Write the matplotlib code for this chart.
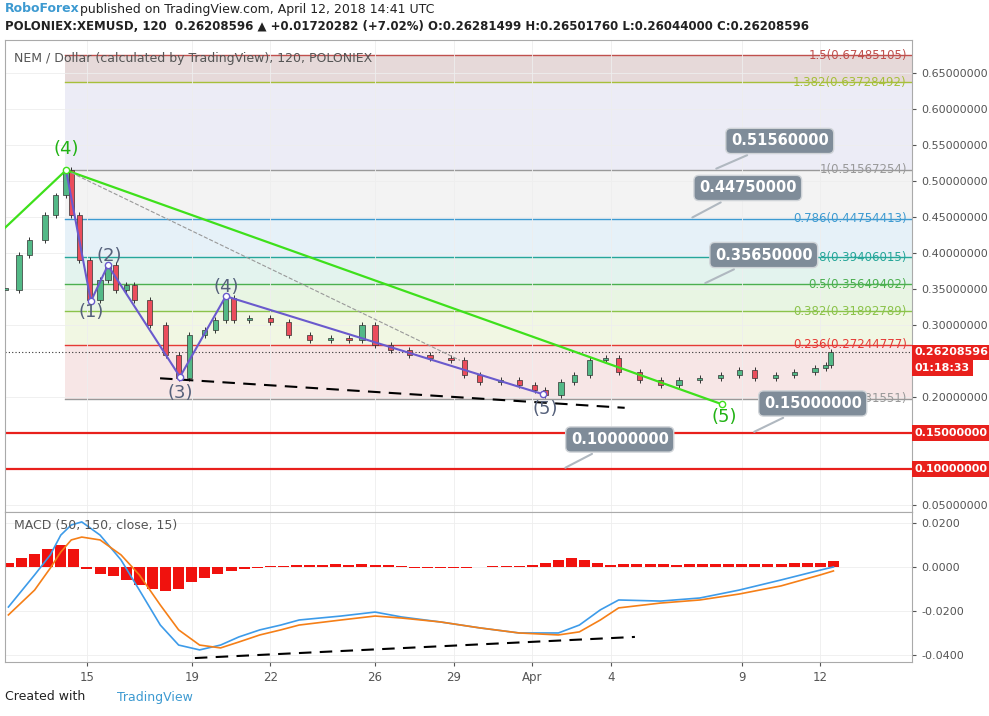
import matplotlib
matplotlib.use("Agg")
import matplotlib.pyplot as plt
import numpy as np

# ---------------- data ----------------
price_days = [11.87,12.4,12.8,13.4,13.8,14.2,14.4,14.7,15.1,15.5,15.8,16.1,16.5,16.8,17.4,18.0,18.5,18.9,19.5,19.9,20.3,20.6,21.2,22.0,22.7,23.5,24.3,25.0,25.5,26.0,26.6,27.3,28.1,28.9,29.4,30.0,30.8,31.5,32.1,32.5,33.1,33.6,34.2,34.8,35.3,36.1,36.9,37.6,38.4,39.2,39.9,40.5,41.3,42.0,42.8,43.2,43.4]
price_close = [0.349,0.397,0.418,0.453,0.480,0.515,0.453,0.390,0.335,0.363,0.383,0.349,0.356,0.335,0.300,0.258,0.226,0.286,0.293,0.307,0.338,0.307,0.310,0.304,0.286,0.279,0.282,0.279,0.300,0.272,0.265,0.258,0.254,0.251,0.231,0.221,0.224,0.217,0.210,0.203,0.221,0.231,0.251,0.254,0.235,0.224,0.217,0.224,0.226,0.231,0.238,0.226,0.231,0.235,0.240,0.244,0.262]

fib_ratios = ["1.5","1.382","1","0.786","0.618","0.5","0.382","0.236","0"]
fib_levels = [0.67485105,0.63728492,0.51567254,0.44754413,0.39406015,0.35649402,0.31892789,0.27244777,0.19731551]
fib_line_colors = ["#c0504d","#a6bf3a","#999999","#3d9ad1","#26a69a","#4caf50","#8bc34a","#e53935","#999999"]
fib_fill_colors = ["#e6d9d9","#ececf6","#f3f3f3","#e6f1f8","#e3f3ee","#e8f5e3","#f1f7e3","#f7e6e6"]

callout_values = [0.5156,0.4475,0.3565,0.15,0.10]
callout_point_days = [38.93,38.02,38.51,40.38,33.17]
callout_text_pos = [(41.45,0.5556),(40.23,0.4903),(40.84,0.3972),(42.71,0.191),(35.34,0.141)]

macd_days = [12.0,13.0,13.6,14.0,14.4,14.8,15.5,16.3,17.0,17.8,18.5,19.3,20.1,20.8,21.6,22.4,23.1,24.7,26.0,27.0,28.5,30.0,31.5,33.0,33.8,34.6,35.3,36.9,38.4,39.9,41.5,43.0,43.5]
macd_line = [-0.0182,-0.0036,0.0055,0.0145,0.0191,0.0205,0.0145,0.0032,-0.0105,-0.0264,-0.0355,-0.0377,-0.0355,-0.0318,-0.0286,-0.0264,-0.0241,-0.0223,-0.0205,-0.0227,-0.0250,-0.0277,-0.0300,-0.0300,-0.0264,-0.0195,-0.0150,-0.0155,-0.0141,-0.0105,-0.0059,-0.0014,0.0]
signal_line = [-0.0218,-0.0105,-0.0005,0.0068,0.0123,0.0136,0.0123,0.0055,-0.0036,-0.0173,-0.0286,-0.0355,-0.0368,-0.0341,-0.0309,-0.0286,-0.0264,-0.0241,-0.0223,-0.0232,-0.0250,-0.0277,-0.0300,-0.0309,-0.0295,-0.0241,-0.0186,-0.0164,-0.0150,-0.0123,-0.0086,-0.0036,-0.0018]
hist_days = list(np.arange(12.0, 43.51, 0.5))
hist_vals = [0.002,0.004,0.006,0.008,0.010,0.008,-0.001,-0.003,-0.004,-0.006,-0.008,-0.010,-0.011,-0.010,-0.007,-0.005,-0.003,-0.002,-0.001,-0.0005,0.0003,0.0005,0.0008,0.001,0.001,0.0012,0.001,0.0012,0.001,0.0008,0.0005,-0.0003,-0.0005,-0.0005,-0.0004,-0.0003,-0.0002,0.0003,0.0005,0.0006,0.0008,0.002,0.003,0.004,0.003,0.002,0.001,0.0012,0.0015,0.0015,0.0012,0.001,0.0012,0.0015,0.0015,0.0012,0.0012,0.0015,0.0015,0.0015,0.0018,0.002,0.002,0.0025]

tick_days = [15,19,22,26,29,32,35,40,43]
tick_labels = ["15","19","22","26","29","Apr","4","9","12"]
price_ticks = [0.05,0.20,0.30,0.35,0.40,0.45,0.50,0.55,0.60,0.65]

XL = (11.87, 46.5)

fig = plt.figure(figsize=(9.89,7.16), dpi=100)
fig.patch.set_facecolor("white")
ax = fig.add_axes([5/989, 1-512/716, 907/989, 472/716])
mx = fig.add_axes([5/989, 1-662/716, 907/989, 150/716], sharex=ax)

for i in range(len(fib_levels)-1):
    ax.fill_between([14.16, XL[1]], fib_levels[i+1], fib_levels[i], color=fib_fill_colors[i], lw=0, zorder=0)
for r, lv, c in zip(fib_ratios, fib_levels, fib_line_colors):
    ax.plot([14.16, XL[1]], [lv, lv], color=c, lw=1, zorder=1)
    ax.text(46.3, lv, f"{r}({lv:.8f})", color=c, fontsize=8.5, ha="right", va="center", zorder=5)

for lv in [0.15, 0.10]:
    ax.axhline(lv, color="#e8201c", lw=1.6, zorder=2)

opens = [price_close[0]] + price_close[:-1]
for d, o, c in zip(price_days, opens, price_close):
    col = "#53b987" if c >= o else "#eb4d5c"
    ax.bar(d, c-o if c != o else 0.002, bottom=o, width=0.2, color=col, edgecolor="#333333", lw=0.5, zorder=3)
    ax.vlines(d, min(o,c)-0.004, max(o,c)+0.004, color="#333333", lw=0.7, zorder=2.5)

ax.axhline(price_close[-1], color="#333333", lw=0.8, ls=(0,(1,2)), zorder=2)

ax.plot([11.87, 14.2, 39.24], [0.435, 0.515, 0.190], color="#3ee01b", lw=1.6, zorder=4)
ax.plot([14.2, 29.24], [0.515, 0.251], color="#999999", lw=0.8, ls="--", zorder=4)
ax.plot([14.2,15.15,15.8,18.55,20.3,32.4], [0.515,0.333,0.383,0.228,0.340,0.204], color="#6a5acd", lw=1.5, zorder=4)
ax.plot([17.79, 35.53], [0.226, 0.185], color="black", lw=1.5, ls=(0,(6,4)), zorder=4)
for d,p,c in [(14.2,0.515,"#3ee01b"),(15.15,0.333,"#6a5acd"),(15.8,0.383,"#6a5acd"),(18.55,0.228,"#6a5acd"),(20.3,0.340,"#6a5acd"),(32.4,0.204,"#6a5acd"),(39.24,0.190,"#3ee01b")]:
    ax.plot(d,p,'o',ms=4.5,mfc="white",mec=c,zorder=6)

wl = [("(4)",14.2,0.545,"#21b214"),("(1)",15.15,0.318,"#55607a"),("(2)",15.85,0.396,"#55607a"),("(3)",18.55,0.205,"#55607a"),("(4)",20.3,0.353,"#55607a"),("(5)",32.5,0.183,"#55607a"),("(5)",39.35,0.172,"#21b214")]
for t,d,p,c in wl:
    ax.text(d,p,t,color=c,fontsize=13,ha="center",va="center",zorder=6)

for v, pd_, tp in zip(callout_values, callout_point_days, callout_text_pos):
    ax.annotate(f"{v:.8f}", xy=(pd_, v), xytext=tp, fontsize=10.5, fontweight="bold", color="white",
                ha="center", va="center", zorder=8,
                bbox=dict(boxstyle="round,pad=0.35", fc="#7f8c99", ec="#d0d4d8", lw=1),
                arrowprops=dict(arrowstyle="-", color="#b0b8c0", lw=1.5))

ax.set_xlim(*XL)
ax.set_ylim(0.0403, 0.6958)
ax.yaxis.tick_right()
ax.set_yticks(price_ticks)
ax.set_yticklabels([f"{v:.8f}" for v in price_ticks], fontsize=8, color="#333333")
ax.tick_params(axis="x", labelbottom=False, length=0)
ax.tick_params(axis="y", length=3, colors="#555555")
for lv, txt in [(0.15,"0.15000000"),(0.10,"0.10000000"),(price_close[-1],"0.26208596")]:
    ax.text(1.003, lv, txt, transform=ax.get_yaxis_transform(), fontsize=8, color="white", fontweight="bold",
            va="center", ha="left", bbox=dict(boxstyle="square,pad=0.25", fc="#e8201c", ec="none"), zorder=9, clip_on=False)
ax.text(1.003, price_close[-1]-0.022, "01:18:33", transform=ax.get_yaxis_transform(), fontsize=8, color="white",
        fontweight="bold", va="center", ha="left", bbox=dict(boxstyle="square,pad=0.25", fc="#e8201c", ec="none"), clip_on=False)
ax.text(0.01, 0.975, "NEM / Dollar (calculated by TradingView), 120, POLONIEX", transform=ax.transAxes,
        fontsize=9, color="#555555", va="top", zorder=9)

mx.bar(hist_days, hist_vals, width=0.42, color="#f0120e", zorder=2)
mx.plot(macd_days, macd_line, color="#3d9be9", lw=1.2, zorder=3)
mx.plot(macd_days, signal_line, color="#f57f17", lw=1.2, zorder=3)
mx.plot([19.12, 35.92], [-0.0414, -0.0318], color="black", lw=1.5, ls=(0,(6,4)), zorder=4)
mx.set_ylim(-0.0432, 0.025)
mx.yaxis.tick_right()
mx.set_yticks([0.02,0.0,-0.02,-0.04])
mx.set_yticklabels(["0.0200","0.0000","-0.0200","-0.0400"], fontsize=8, color="#333333")
mx.set_xticks(tick_days)
mx.set_xticklabels(tick_labels, fontsize=8.5, color="#333333")
mx.tick_params(axis="x", length=3, colors="#555555")
mx.tick_params(axis="y", length=3, colors="#555555")
mx.text(0.01, 0.95, "MACD (50, 150, close, 15)", transform=mx.transAxes, fontsize=9, color="#555555", va="top")

for a in (ax, mx):
    for s in a.spines.values():
        s.set_color("#aaaaaa")
    a.set_facecolor("white")
    a.grid(True, color="#eeeeee", lw=0.6, zorder=0)

fig.text(5/989, 1-9/716, "RoboForex", fontsize=9, fontweight="bold", color="#3d9ad1", va="center")
fig.text(80/989, 1-9/716, "published on TradingView.com, April 12, 2018 14:41 UTC", fontsize=9, color="#222222", va="center")
fig.text(5/989, 1-27/716, "POLONIEX:XEMUSD, 120  0.26208596 ▲ +0.01720282 (+7.02%) O:0.26281499 H:0.26501760 L:0.26044000 C:0.26208596",
         fontsize=8.5, fontweight="bold", color="#222222", va="center")
fig.text(5/989, 1-697/716, "Created with", fontsize=9, color="#222222", va="center")
fig.text(117/989, 1-697/716, "TradingView", fontsize=9, color="#3d9ad1", va="center")

fig.savefig("out.png", dpi=100)
